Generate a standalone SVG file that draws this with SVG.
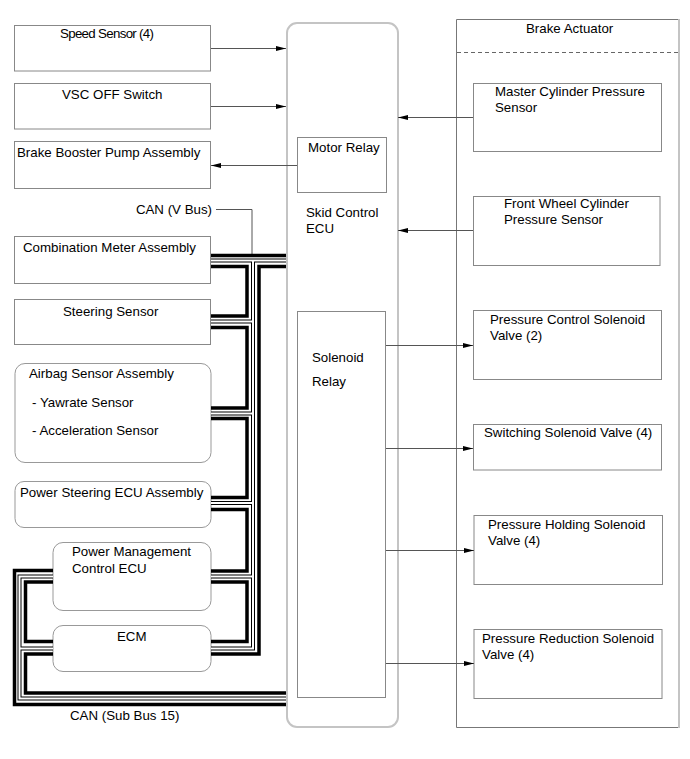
<svg xmlns="http://www.w3.org/2000/svg" width="690" height="759" viewBox="0 0 690 759">
<defs>
<marker id="ah" markerUnits="userSpaceOnUse" markerWidth="10" markerHeight="6" refX="10" refY="3" orient="auto"><path d="M0,0.6 L10,3 L0,5.4 z" fill="#000"/></marker>
</defs>
<style>
text{font-family:"Liberation Sans",Arial,sans-serif;font-size:13.3px;fill:#000}
.box{fill:#fff;stroke:#888;stroke-width:1}
.rbox{fill:#fff;stroke:#999;stroke-width:1}
.ecu{fill:#fff;stroke:#c4c4c4;stroke-width:2}
.conn{fill:none;stroke:#555;stroke-width:1}
.blk{fill:none;stroke:#000;stroke-width:3.5;stroke-linejoin:miter}
.ho{fill:none;stroke:#000;stroke-width:4;stroke-linejoin:miter}
.hi{fill:none;stroke:#fff;stroke-width:2;stroke-linejoin:miter}
</style>
<rect width="690" height="759" fill="#fff"/>

<g id="brake-actuator">
<path d="M679 19.5 H456.5 V727.5 H679" fill="none" stroke="#777" stroke-width="1"/>
<path d="M679 19 V728" fill="none" stroke="#c4c4c4" stroke-width="2"/>
<path d="M457 52.5 H679" fill="none" stroke="#666" stroke-width="1" stroke-dasharray="4,3"/>
<text x="526" y="33">Brake Actuator</text>
</g>

<g id="skid-control-ecu">
<rect class="ecu" x="287" y="23" width="111" height="704" rx="10"/>
<text x="306" y="217">Skid Control</text>
<text x="306" y="233">ECU</text>
</g>
<g id="motor-relay">
<rect class="box" x="297.5" y="137.5" width="89" height="55"/>
<text x="308" y="152">Motor Relay</text>
</g>
<g id="solenoid-relay">
<rect class="box" x="297.5" y="311.5" width="88" height="386"/>
<text x="312" y="362">Solenoid</text>
<text x="312" y="386">Relay</text>
</g>

<g id="speed-sensor">
<rect class="box" x="14.5" y="25.5" width="196" height="45.5"/>
<text x="60" y="38" textLength="94">Speed Sensor (4)</text>
</g>
<g id="vsc-off-switch">
<rect class="box" x="14.5" y="83.5" width="196" height="45.5"/>
<text x="62" y="99">VSC OFF Switch</text>
</g>
<g id="brake-booster">
<rect class="box" x="14.5" y="141.5" width="196" height="47"/>
<text x="17" y="157">Brake Booster Pump Assembly</text>
</g>
<g id="combination-meter">
<rect class="box" x="14.5" y="236.5" width="196" height="47"/>
<text x="23" y="252">Combination Meter Assembly</text>
</g>
<g id="steering-sensor">
<rect class="box" x="14.5" y="299.5" width="196" height="45"/>
<text x="63" y="316">Steering Sensor</text>
</g>
<g id="airbag-sensor">
<rect class="rbox" x="15" y="363.5" width="196" height="99" rx="10"/>
<text x="29" y="378">Airbag Sensor Assembly</text>
<text x="32" y="407">- Yawrate Sensor</text>
<text x="32" y="435">- Acceleration Sensor</text>
</g>
<g id="power-steering-ecu">
<rect class="rbox" x="15" y="481.5" width="196" height="46" rx="9"/>
<text x="20" y="497">Power Steering ECU Assembly</text>
</g>
<g id="power-management-ecu">
<rect class="rbox" x="53" y="542.5" width="158" height="68" rx="10"/>
<text x="72" y="556">Power Management</text>
<text x="72" y="573">Control ECU</text>
</g>
<g id="ecm">
<rect class="rbox" x="53" y="625.5" width="158" height="46" rx="10"/>
<text x="117" y="641">ECM</text>
</g>

<g id="master-cylinder-sensor">
<rect class="box" x="473.5" y="83.5" width="188" height="68"/>
<text x="495" y="96">Master Cylinder Pressure</text>
<text x="495" y="112">Sensor</text>
</g>
<g id="front-wheel-sensor">
<rect class="box" x="473.5" y="196.5" width="186.5" height="69"/>
<text x="504" y="208">Front Wheel Cylinder</text>
<text x="504" y="224">Pressure Sensor</text>
</g>
<g id="pressure-control-valve">
<rect class="box" x="473.5" y="310.5" width="188" height="69"/>
<text x="490" y="324">Pressure Control Solenoid</text>
<text x="490" y="340">Valve (2)</text>
</g>
<g id="switching-valve">
<rect class="box" x="473.5" y="424.5" width="188" height="45.5"/>
<text x="484" y="437">Switching Solenoid Valve (4)</text>
</g>
<g id="pressure-holding-valve">
<rect class="box" x="474" y="515.5" width="188.5" height="69"/>
<text x="488" y="529">Pressure Holding Solenoid</text>
<text x="488" y="545">Valve (4)</text>
</g>
<g id="pressure-reduction-valve">
<rect class="box" x="474" y="629.5" width="188" height="69"/>
<text x="482" y="643">Pressure Reduction Solenoid</text>
<text x="482" y="659">Valve (4)</text>
</g>

<g id="connectors">
<path class="conn" d="M211 48.5 H286" marker-end="url(#ah)"/>
<path class="conn" d="M211 106.5 H286" marker-end="url(#ah)"/>
<path class="conn" d="M297 165.5 H211" marker-end="url(#ah)"/>
<path class="conn" d="M473 117.5 H398" marker-end="url(#ah)"/>
<path class="conn" d="M473 230.5 H398" marker-end="url(#ah)"/>
<path class="conn" d="M386 345.5 H473" marker-end="url(#ah)"/>
<path class="conn" d="M386 448.5 H473" marker-end="url(#ah)"/>
<path class="conn" d="M386 550.5 H474" marker-end="url(#ah)"/>
<path class="conn" d="M386 663.5 H474" marker-end="url(#ah)"/>
<path class="conn" d="M216 209.5 H252 V254"/>

<g id="can-v-bus">
<path class="blk" d="M211 255.5 H286"/>
<path class="blk" d="M211 266.5 H247 V316 H211"/>
<path class="blk" d="M211 327.5 H247 V408 H211"/>
<path class="blk" d="M211 418.5 H247 V497.5 H211"/>
<path class="blk" d="M211 509.5 H247 V571 H211"/>
<path class="blk" d="M211 582 H247 V641.5 H211"/>
<path class="blk" d="M211 654 H259 V266.5 H286"/>
<path class="ho" d="M211 260.5 H286 M253 260.5 V648.5 H211 M211 321.5 H253 M211 413.5 H253 M211 503 H253 M211 576.5 H253"/>
<path class="hi" d="M211 260.5 H286 M253 260.5 V648.5 H211 M211 321.5 H253 M211 413.5 H253 M211 503 H253 M211 576.5 H253"/>
</g>
<g id="can-sub-bus-15">
<path class="blk" d="M286 704.5 H14.5 V570.5 H53"/>
<path class="blk" d="M53 582 H25.5 V641.5 H53"/>
<path class="blk" d="M53 654 H25.5 V693 H286"/>
<path class="ho" d="M286 698.5 H19.5 V576.5 H53 M19.5 648.5 H53"/>
<path class="hi" d="M286 698.5 H19.5 V576.5 H53 M19.5 648.5 H53"/>
</g>
</g>

<g id="labels">
<text x="212" y="214" text-anchor="end">CAN (V Bus)</text>
<text x="70" y="720">CAN (Sub Bus 15)</text>
</g>
</svg>
